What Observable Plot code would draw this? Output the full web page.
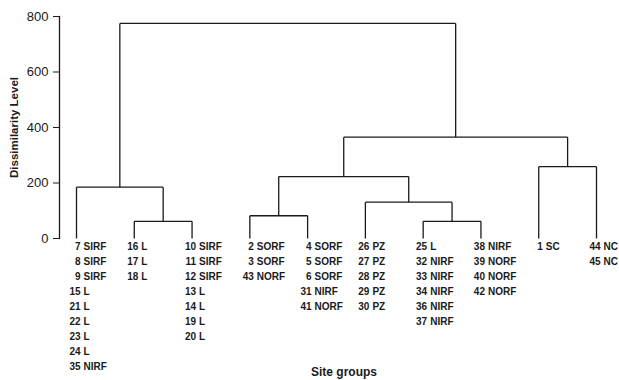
<!DOCTYPE html>
<html>
<head>
<meta charset="utf-8">
<script src="https://cdn.jsdelivr.net/npm/d3@7"></script>
<script src="https://cdn.jsdelivr.net/npm/@observablehq/plot@0.6"></script>
<style>
  html, body { margin: 0; padding: 0; background: #fff; }
  svg text { font-family: "Liberation Sans", Arial, sans-serif; }
</style>
</head>
<body>
<div id="chart"></div>
<script>
// Leaf site groups (left to right), each a list of site labels
const leafGroups = [
  ["7 SIRF", "8 SIRF", "9 SIRF", "15 L", "21 L", "22 L", "23 L", "24 L", "35 NIRF"],
  ["16 L", "17 L", "18 L"],
  ["10 SIRF", "11 SIRF", "12 SIRF", "13 L", "14 L", "19 L", "20 L"],
  ["2 SORF", "3 SORF", "43 NORF"],
  ["4 SORF", "5 SORF", "6 SORF", "31 NIRF", "41 NORF"],
  ["26 PZ", "27 PZ", "28 PZ", "29 PZ", "30 PZ"],
  ["25 L", "32 NIRF", "33 NIRF", "34 NIRF", "36 NIRF", "37 NIRF"],
  ["38 NIRF", "39 NORF", "40 NORF", "42 NORF"],
  ["1 SC"],
  ["44 NC", "45 NC"]
];
// Merges: child A, child B (indices: leaves 0..9, then new nodes 10, 11, ...)
const mergeA = [1, 0, 3, 6, 5, 12, 8, 15, 11];
const mergeB = [2, 10, 4, 7, 13, 14, 9, 16, 17];
// Dissimilarity level of each merge
const mergeLevel = [62, 185, 82, 62, 131, 223, 259, 365, 775];
const yTicks = [0, 200, 400, 600, 800];

// Build node positions (leaf order index, level)
const nodeX = leafGroups.map((_, i) => i);
const nodeY = leafGroups.map(() => 0);
const segments = [];
mergeA.forEach((a, k) => {
  const b = mergeB[k], h = mergeLevel[k];
  segments.push({x1: nodeX[a], y1: nodeY[a], x2: nodeX[a], y2: h});
  segments.push({x1: nodeX[b], y1: nodeY[b], x2: nodeX[b], y2: h});
  segments.push({x1: nodeX[a], y1: h, x2: nodeX[b], y2: h});
  nodeX.push((nodeX[a] + nodeX[b]) / 2);
  nodeY.push(h);
});

const labelRows = [];
leafGroups.forEach((g, i) => g.forEach((s, j) => {
  const m = s.match(/^(\d+)\s*(.*)$/);
  labelRows.push({leaf: i, row: j, num: m[1], name: m[2]});
}));
const maxRows = d3.max(leafGroups, g => g.length);

const ink = "#1a1a1a";
const labelStyle = {fontSize: 10, fontWeight: "bold", fill: ink};
const labelMarks = [];
for (let j = 0; j < maxRows; ++j) {
  const rows = labelRows.filter(d => d.row === j);
  const dy = 8 + 15 * j;
  labelMarks.push(
    Plot.text(rows, {x: "leaf", y: () => 0, text: "num", textAnchor: "end", dx: 4, dy, ...labelStyle}),
    Plot.text(rows, {x: "leaf", y: () => 0, text: "name", textAnchor: "start", dx: 7, dy, ...labelStyle})
  );
}

const chart = Plot.plot({
  width: 619,
  height: 380,
  marginLeft: 59,
  marginRight: 23,
  marginTop: 16,
  marginBottom: 142,
  x: {domain: [0, leafGroups.length - 1], insetLeft: 17, axis: null},
  y: {domain: [0, 800], axis: null},
  marks: [
    Plot.frame({anchor: "left", stroke: ink, strokeWidth: 1.3}),
    Plot.axisY(yTicks, {tickSize: 6, tickPadding: 5, fontSize: 13, label: null, stroke: ink, fill: ink}),
    Plot.link(segments, {x1: "x1", y1: "y1", x2: "x2", y2: "y2", stroke: ink, strokeWidth: 1.3}),
    ...labelMarks,
    Plot.text(["Dissimilarity Level"], {frameAnchor: "left", textAnchor: "middle", lineAnchor: "middle", rotate: -90, dx: -45, fontSize: 11.5, fontWeight: "bold", fill: ink}),
    Plot.text(["Site groups"], {frameAnchor: "bottom", textAnchor: "middle", lineAnchor: "middle", dx: 16, dy: 134, fontSize: 12, fontWeight: "bold", fill: ink})
  ]
});
document.getElementById("chart").appendChild(chart);
</script>
</body>
</html>
